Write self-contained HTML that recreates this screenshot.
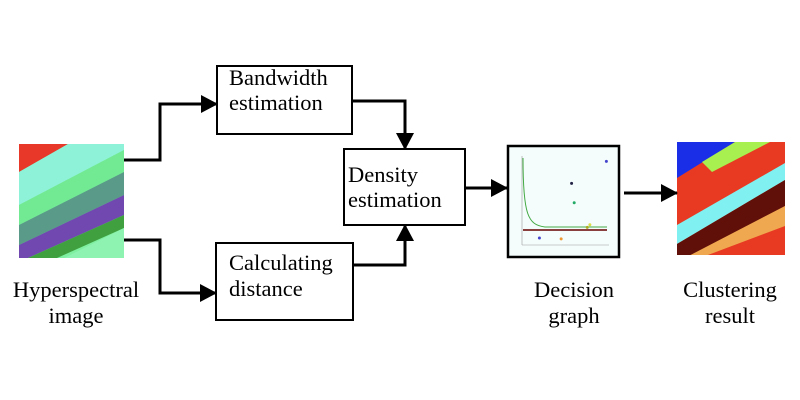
<!DOCTYPE html>
<html><head><meta charset="utf-8">
<style>
html,body{margin:0;padding:0;background:#fff;width:800px;height:400px;overflow:hidden}
svg{display:block}
text{font-family:"Liberation Serif",serif;font-size:22.5px;fill:#000}
</style></head>
<body>
<svg width="800" height="400" viewBox="0 0 800 400">
<defs>
<marker id="ah" markerWidth="17" markerHeight="18" refX="16" refY="9" orient="auto" markerUnits="userSpaceOnUse" viewBox="0 0 17 18">
<path d="M0,0 L17,9 L0,18 z" fill="#000"/></marker>
<clipPath id="c1"><rect x="19" y="144" width="105" height="114"/></clipPath>
<clipPath id="c2"><rect x="677" y="142" width="108" height="113"/></clipPath>
</defs>

<g clip-path="url(#c1)">
<rect x="19" y="144" width="105" height="114" fill="#7ef0a0"/>
<polygon points="19,144 68,144 19,172" fill="#e8382a"/>
<polygon points="68,144 124,144 124,150 19,205 19,172" fill="#8ef2d8"/>
<polygon points="124,150 124,172 19,225 19,205" fill="#72ea94"/>
<polygon points="124,172 124,195 19,245 19,225" fill="#5a9a88"/>
<polygon points="124,195 124,215 19,262 19,245" fill="#7048b0"/>
<polygon points="124,215 124,228 19,275 19,262" fill="#40a040"/>
<polygon points="124,228 124,260 60,260" fill="#8ef2b0"/>
</g>

<g clip-path="url(#c2)">
<rect x="677" y="142" width="108" height="113" fill="#e83a22"/>
<polygon points="677,142 735,142 677,178" fill="#1a2ee8"/>
<polygon points="735,142 770,142 712,172 702,162" fill="#a8f050"/>
<polygon points="785,163 785,180 677,244 677,225" fill="#80f0f0"/>
<polygon points="785,180 785,206 677,265 677,244" fill="#601008"/>
<polygon points="785,206 785,226 700,258 677,262" fill="#f0a850"/>
</g>

<g>
<rect x="508" y="146" width="111" height="111" fill="#f4fcfc" stroke="#000" stroke-width="2.5"/>
<line x1="522" y1="156" x2="522" y2="245" stroke="#999" stroke-width="0.6"/>
<line x1="522" y1="245" x2="609" y2="245" stroke="#999" stroke-width="0.6"/>
<path d="M523,158 C523,215 528,225 545,227 L607,227" fill="none" stroke="#4a4" stroke-width="1"/>
<line x1="523" y1="230" x2="607" y2="230" stroke="#600" stroke-width="1.5"/>
<g id="pts"></g>
</g>

<rect x="217" y="66" width="135" height="68" fill="#fff" stroke="#000" stroke-width="2"/>
<text x="229" y="85">Bandwidth</text><text x="229" y="110">estimation</text>
<rect x="344" y="149" width="121" height="76" fill="#fff" stroke="#000" stroke-width="2"/>
<text x="348" y="182">Density</text><text x="348" y="207">estimation</text>
<rect x="216" y="243" width="137" height="77" fill="#fff" stroke="#000" stroke-width="2"/>
<text x="229" y="270">Calculating</text><text x="229" y="296">distance</text>

<g fill="none" stroke="#000" stroke-width="3">
<polyline points="124,160 160,160 160,104 217,104" marker-end="url(#ah)"/>
<polyline points="124,240 160,240 160,293 216,293" marker-end="url(#ah)"/>
<polyline points="352,101 405,101 405,149" marker-end="url(#ah)"/>
<polyline points="353,265 405,265 405,225" marker-end="url(#ah)"/>
<line x1="465" y1="188" x2="507" y2="188" marker-end="url(#ah)"/>
<line x1="624" y1="193" x2="677" y2="193" marker-end="url(#ah)"/>
</g>

<text x="76" y="297" text-anchor="middle">Hyperspectral</text>
<text x="76" y="323" text-anchor="middle">image</text>
<text x="574" y="297" text-anchor="middle">Decision</text>
<text x="574" y="323" text-anchor="middle">graph</text>
<text x="730" y="297" text-anchor="middle">Clustering</text>
<text x="730" y="323" text-anchor="middle">result</text>
</svg>
<script>
const rhoVals=[0.97,0.57,0.6,0.75,0.78,0.2,0.45];
const deltaVals=[0.95,0.7,0.48,0.2,0.23,0.08,0.07];
const ptColors=["#44c","#224","#2a6","#aa2","#dd4","#44c","#e93"];
const xs=v=>522+v*87, ys=v=>245-v*88;
const g=document.getElementById('pts');
rhoVals.forEach((r,i)=>{
 const c=document.createElementNS('http://www.w3.org/2000/svg','circle');
 c.setAttribute('cx',xs(r));c.setAttribute('cy',ys(deltaVals[i]));c.setAttribute('r',1.5);c.setAttribute('fill',ptColors[i]);
 
 
 g.appendChild(c);
});
</script>
</body></html>
